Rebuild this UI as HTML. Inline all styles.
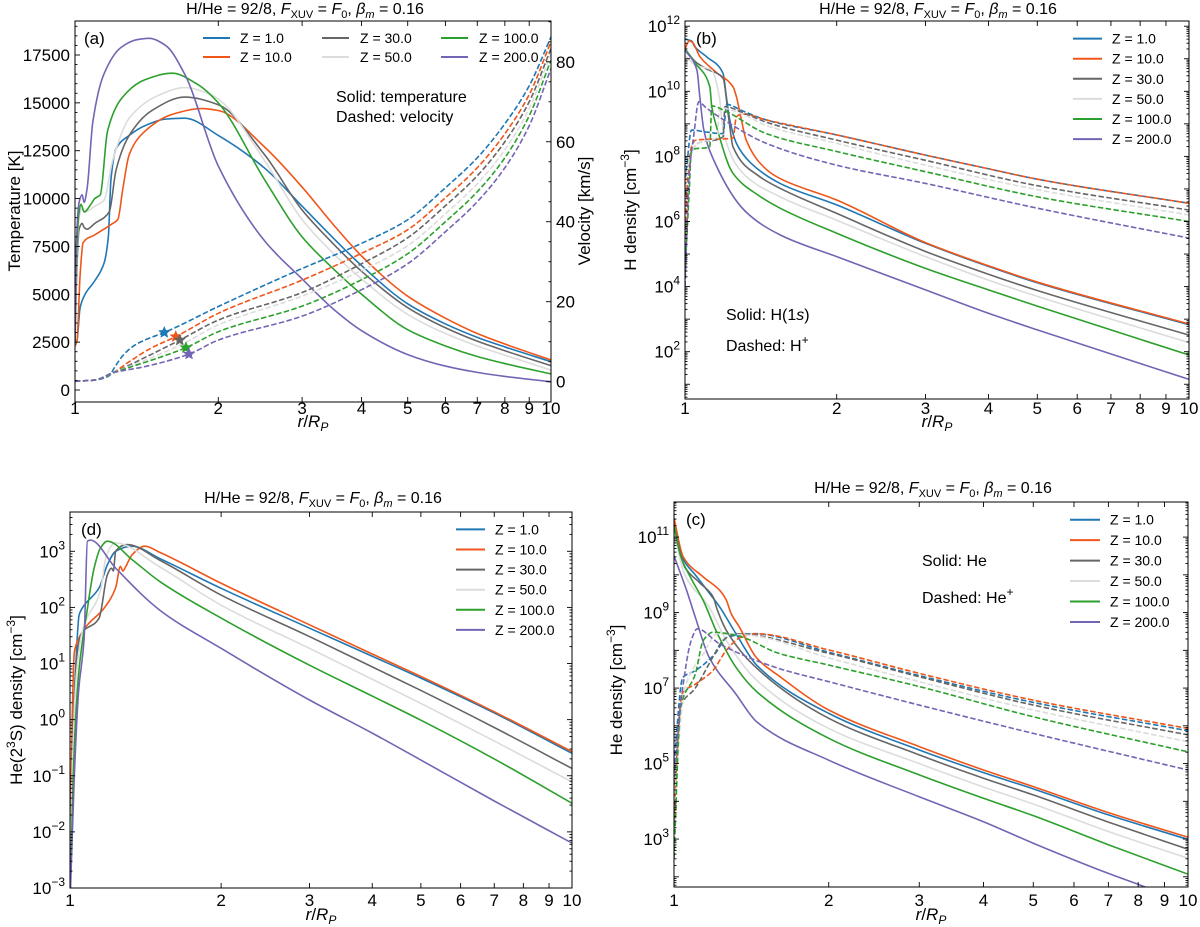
<!DOCTYPE html>
<html><head><meta charset="utf-8"><style>
body{margin:0;background:#fff}
svg{display:block;font-family:"Liberation Sans",sans-serif}
</style></head><body>
<svg id="fig" width="1200" height="927" viewBox="0 0 1200 927" xmlns="http://www.w3.org/2000/svg"></svg>
<script>
// ---------- shared ----------
const zLabels = ["Z = 1.0","Z = 10.0","Z = 30.0","Z = 50.0","Z = 100.0","Z = 200.0"];
const xTicks = [1,2,3,4,5,6,7,8,9,10];
// ---------- panel (a): temperature [K] vs r ----------
const tempZ1 = [[1,2290],[1.01,2600],[1.025,4300],[1.05,5000],[1.1,5700],[1.15,6600],[1.175,8000],[1.19,11000],[1.22,12600],[1.3,13300],[1.4,13800],[1.55,14150],[1.7,14200],[2,13300],[2.5,11600],[3,9600],[3.5,7900],[4,6500],[5,4500],[6,3450],[7,2750],[8,2250],[10,1480]];
const tempZ10 = [[1,2300],[1.01,2600],[1.025,6000],[1.04,7700],[1.1,8100],[1.2,8700],[1.23,8900],[1.26,10500],[1.3,12300],[1.4,13500],[1.6,14400],[1.85,14700],[2,14600],[2.5,12700],[3,10600],[3.5,8600],[4,7000],[5,4900],[6,3750],[7,2950],[8,2400],[10,1570]];
const tempZ30 = [[1,2400],[1.005,5000],[1.02,8400],[1.035,8700],[1.045,8500],[1.06,8400],[1.1,8700],[1.18,9300],[1.22,11500],[1.3,13300],[1.45,14600],[1.7,15300],[2,14900],[2.5,12300],[3,9400],[3.5,7600],[4,6200],[5,4300],[6,3250],[7,2550],[8,2050],[10,1270]];
const tempZ50 = [[1,2400],[1.005,5500],[1.02,9000],[1.035,9500],[1.05,9300],[1.1,9600],[1.15,9900],[1.2,12000],[1.3,14200],[1.5,15400],[1.7,15800],[1.9,15500],[2,15200],[2.5,12000],[3,8900],[3.5,7100],[4,5800],[5,3950],[6,2950],[7,2300],[8,1820],[10,1040]];
const tempZ100 = [[1,2400],[1.005,6000],[1.02,9300],[1.03,9700],[1.045,9300],[1.08,9700],[1.1,10000],[1.13,10200],[1.17,13500],[1.25,15200],[1.4,16200],[1.6,16550],[1.8,16000],[2,15000],[2.5,11000],[3,8000],[3.5,6300],[4,5000],[5,3150],[6,2300],[7,1750],[8,1380],[10,840]];
const tempZ200 = [[1,2500],[1.005,7000],[1.02,9800],[1.035,10200],[1.045,9800],[1.06,10500],[1.09,14000],[1.15,16500],[1.25,17900],[1.35,18300],[1.43,18370],[1.55,18000],[1.7,16500],[2,11700],[2.5,7800],[3,5800],[3.5,4200],[4,3100],[5,1850],[6,1250],[7,920],[8,710],[10,430]];
const velZ1 = [[1,0.1],[1.1,0.4],[1.18,1.5],[1.21,3.5],[1.26,6.5],[1.33,9],[1.42,10.7],[1.54,12.3],[2,18.8],[3,28.3],[4,34.6],[5,40.5],[6,48.5],[7,56],[8,64.5],[9,74],[10,86.2]];
const velZ10 = [[1,0.1],[1.1,0.4],[1.2,2.2],[1.3,5],[1.45,8.5],[1.628,11.25],[2,17.1],[3,25.4],[4,32.1],[5,38],[6,46],[7,53.5],[8,62],[9,71.8],[10,85]];
const velZ30 = [[1,0.1],[1.1,0.4],[1.2,2.2],[1.4,6],[1.66,10.4],[2,15.4],[3,22.3],[4,29.5],[5,36],[6,44],[7,51.5],[8,60],[9,70],[10,83.3]];
const velZ50 = [[1,0.1],[1.1,0.4],[1.2,2.2],[1.4,5.3],[1.68,9.4],[2,14.2],[3,21.4],[4,27.8],[5,34],[6,42],[7,49.5],[8,58],[9,68.3],[10,82.1]];
const velZ100 = [[1,0.1],[1.1,0.4],[1.2,2.2],[1.4,4.8],[1.71,8.5],[2,12.5],[3,18.9],[4,25.5],[5,32],[6,40],[7,47.5],[8,56],[9,66.5],[10,80.4]];
const velZ200 = [[1,0.1],[1.1,0.4],[1.2,2.2],[1.4,3.75],[1.736,6.9],[2,10.4],[3,16.4],[4,23],[5,29.5],[6,37.5],[7,45],[8,53.5],[9,64],[10,78.3]];
const starR = [1.54,1.628,1.66,1.71,1.736];
const starV = [12.3,11.25,10.4,8.5,6.9];
const tempTicks = [0,2500,5000,7500,10000,12500,15000,17500];
const velTicks = [0,20,40,60,80];
// ---------- panel (b): log10 H density ----------
const h1sZ1 = [[1,11.6],[1.03,11.55],[1.046,11.37],[1.104,11.06],[1.19,10.55],[1.208,9.83],[1.227,9.12],[1.265,8.4],[1.35,7.8],[1.544,7.17],[2,6.51],[3,5.33],[4,4.62],[5,4.12],[10,2.83]];
const h1sZ10 = [[1,11.3],[1.02,11.55],[1.035,11.5],[1.071,11.06],[1.15,10.6],[1.245,10.14],[1.265,9.83],[1.294,9.12],[1.323,8.5],[1.45,7.6],[1.544,7.32],[2,6.66],[3,5.35],[4,4.64],[5,4.14],[10,2.85]];
const h1sZ30 = [[1,11.3],[1.05,10.9],[1.1,10.7],[1.19,10.4],[1.22,9.22],[1.245,8.3],[1.4,7.4],[1.544,7.02],[2,6.25],[3,5.08],[4,4.38],[5,3.88],[10,2.51]];
const h1sZ50 = [[1,11.1],[1.05,10.8],[1.13,10.65],[1.17,9.83],[1.19,8.81],[1.3,7.5],[1.544,6.76],[2,6.04],[3,4.92],[4,4.2],[5,3.7],[10,2.28]];
const h1sZ100 = [[1,11.3],[1.05,10.85],[1.12,10.14],[1.13,9.53],[1.16,8.81],[1.245,7.48],[1.4,6.8],[1.544,6.41],[2,5.64],[3,4.56],[4,3.9],[5,3.4],[10,1.9]];
const h1sZ200 = [[1,11.27],[1.056,10.65],[1.07,9.83],[1.09,8.81],[1.14,7.89],[1.32,6.3],[1.544,5.59],[2,4.92],[3,3.9],[4,3.18],[5,2.67],[10,1.15]];
const hpZ1 = [[1,6.8],[1.01,7.8],[1.03,8.81],[1.1,8.75],[1.19,8.7],[1.21,9.6],[1.3,9.4],[1.45,9.12],[2,8.66],[3,8.04],[4,7.62],[5,7.3],[10,6.56]];
const hpZ10 = [[1,5.5],[1.015,7.5],[1.03,8.3],[1.05,8.5],[1.245,8.56],[1.265,9.22],[1.3,9.3],[1.45,9.12],[2,8.66],[3,8.04],[4,7.62],[5,7.3],[10,6.56]];
const hpZ30 = [[1,7.0],[1.02,7.9],[1.06,8.4],[1.19,8.6],[1.2,9.53],[1.3,9.35],[1.45,9.05],[2,8.5],[3,7.88],[5,7.1],[10,6.35]];
const hpZ50 = [[1,7.0],[1.02,7.9],[1.06,8.4],[1.16,8.6],[1.17,9.5],[1.3,9.3],[1.45,8.95],[2,8.4],[3,7.73],[5,6.98],[10,6.2]];
const hpZ100 = [[1,4.4],[1.02,7.0],[1.03,8.2],[1.12,8.3],[1.13,9.55],[1.2,9.4],[1.45,8.7],[2,8.15],[3,7.53],[5,6.76],[10,6.0]];
const hpZ200 = [[1,4.0],[1.02,7.5],[1.04,8.6],[1.065,9.68],[1.1,9.5],[1.2,9.1],[1.45,8.4],[2,7.73],[3,7.17],[5,6.41],[10,5.49]];
const bTickExp = [2,4,6,8,10,12];
// ---------- panel (d): log10 He(2^3S) density ----------
const tripZ1 = [[1,-1.3],[1.01,-1.2],[1.025,0.8],[1.043,1.87],[1.06,2.0],[1.143,2.35],[1.187,2.76],[1.233,3.0],[1.33,3.09],[1.51,2.87],[2,2.34],[3,1.63],[4,1.13],[5,0.74],[7,0.12],[10,-0.6]];
const tripZ10 = [[1,-2.6],[1.01,0.0],[1.02,1.2],[1.028,1.33],[1.07,1.63],[1.17,1.99],[1.233,2.35],[1.26,2.73],[1.275,2.65],[1.29,2.72],[1.33,2.94],[1.41,3.09],[1.51,2.98],[2,2.43],[3,1.69],[4,1.17],[5,0.77],[7,0.14],[10,-0.57]];
const tripZ30 = [[1,-3.2],[1.01,-1],[1.025,0.8],[1.05,1.5],[1.143,1.81],[1.187,2.58],[1.21,2.7],[1.22,2.65],[1.233,3.0],[1.3,3.12],[1.51,2.84],[2,2.22],[3,1.48],[4,0.94],[5,0.52],[7,-0.14],[10,-0.87]];
const tripZ50 = [[1,-3.2],[1.01,-1],[1.03,0.8],[1.06,1.6],[1.15,2.3],[1.18,2.9],[1.23,3.15],[1.51,2.72],[2,2.04],[3,1.27],[4,0.72],[5,0.29],[7,-0.38],[10,-1.11]];
const tripZ100 = [[1,-3.3],[1.015,-1],[1.04,0.8],[1.08,1.9],[1.117,2.7],[1.15,3.06],[1.187,3.18],[1.33,2.85],[1.51,2.46],[2,1.81],[3,0.97],[4,0.42],[5,-0.01],[7,-0.7],[10,-1.49]];
const tripZ200 = [[1,-3.3],[1.02,-1],[1.04,0.5],[1.067,1.45],[1.083,3.18],[1.098,3.2],[1.233,2.7],[1.51,1.95],[2,1.27],[3,0.35],[4,-0.24],[5,-0.72],[7,-1.45],[10,-2.2]];
const dTickExp = [-3,-2,-1,0,1,2,3];
// ---------- panel (c): log10 He density ----------
const heZ1 = [[1,11.4],[1.045,10.39],[1.1,10.0],[1.18,9.46],[1.227,9.15],[1.32,8.44],[1.45,7.6],[2,6.33],[3,5.36],[4,4.76],[5,4.33],[7,3.64],[10,2.99]];
const heZ10 = [[1,11.5],[1.042,10.48],[1.139,9.95],[1.227,9.59],[1.264,9.33],[1.292,8.97],[1.34,8.62],[1.444,7.82],[1.608,7.3],[2,6.42],[3,5.45],[4,4.83],[5,4.39],[7,3.7],[10,3.05]];
const heZ30 = [[1,11.3],[1.05,10.2],[1.12,9.8],[1.191,9.42],[1.215,9.06],[1.264,8.53],[1.43,7.6],[2,6.2],[3,5.23],[4,4.61],[5,4.17],[7,3.45],[10,2.73]];
const heZ50 = [[1,11.1],[1.05,10.0],[1.17,9.15],[1.264,8.26],[1.45,7.2],[2,5.93],[3,5.0],[4,4.38],[5,3.93],[7,3.2],[10,2.49]];
const heZ100 = [[1,11.3],[1.03,10.5],[1.08,9.9],[1.139,9.33],[1.215,8.44],[1.32,7.55],[1.45,6.9],[2,5.67],[3,4.7],[4,4.08],[5,3.62],[7,2.85],[10,2.07]];
const heZ200 = [[1,10.5],[1.058,9.59],[1.1,8.88],[1.17,7.82],[1.32,6.84],[1.45,6.1],[2,5.09],[3,4.12],[4,3.46],[5,2.89],[7,2.09],[8,1.8],[10,1.3]];
const hepZ1 = [[1,5.0],[1.04,7.28],[1.1,7.46],[1.2,7.9],[1.27,8.35],[1.43,8.44],[2,7.95],[3,7.33],[5,6.62],[10,5.87]];
const hepZ10 = [[1,3.5],[1.02,5.8],[1.035,6.84],[1.1,7.1],[1.19,7.46],[1.264,8.0],[1.35,8.35],[1.444,8.44],[2,8.01],[3,7.39],[5,6.68],[10,5.93]];
const hepZ30 = [[1,4.0],[1.03,6.5],[1.1,7.0],[1.19,7.82],[1.245,8.26],[1.32,8.44],[2,7.92],[3,7.3],[5,6.55],[10,5.76]];
const hepZ50 = [[1,4.0],[1.05,7.0],[1.14,7.9],[1.215,8.44],[1.4,8.4],[2,7.8],[3,7.17],[5,6.42],[10,5.58]];
const hepZ100 = [[1,2.5],[1.03,6.48],[1.1,7.37],[1.14,8.26],[1.19,8.48],[1.32,8.4],[1.6,7.92],[2,7.61],[3,7.04],[5,6.24],[10,5.31]];
const hepZ200 = [[1,4.8],[1.04,7.02],[1.08,8.26],[1.11,8.57],[1.227,8.17],[1.6,7.52],[2,7.17],[3,6.55],[5,5.8],[10,4.83]];
const cTickExp = [3,5,7,9,11];

// ---------- drawing ----------
const COLORS = ["#1f77b4","#f0561a","#666666","#dcdcdc","#2ca02c","#7464b4"];
const NS = "http://www.w3.org/2000/svg";
const svg = document.getElementById("fig");
function el(tag, attrs, parent){
  const e = document.createElementNS(NS, tag);
  for (const k in attrs) e.setAttribute(k, attrs[k]);
  (parent||svg).appendChild(e);
  return e;
}
function monoPath(pts){
  const n = pts.length; if (n<2) return "";
  const dx=[],dy=[],s=[];
  for(let i=0;i<n-1;i++){dx[i]=pts[i+1][0]-pts[i][0];dy[i]=pts[i+1][1]-pts[i][1];s[i]=dy[i]/dx[i];}
  const m=[s[0]];
  for(let i=1;i<n-1;i++){
    if(s[i-1]*s[i]<=0) m[i]=0;
    else { const w1=2*dx[i]+dx[i-1], w2=dx[i]+2*dx[i-1]; m[i]=(w1+w2)/(w1/s[i-1]+w2/s[i]); }
  }
  m[n-1]=s[n-2];
  let d="M"+pts[0][0].toFixed(2)+","+pts[0][1].toFixed(2);
  for(let i=0;i<n-1;i++){
    const h=dx[i];
    d+="C"+(pts[i][0]+h/3).toFixed(2)+","+(pts[i][1]+m[i]*h/3).toFixed(2)+" "+(pts[i+1][0]-h/3).toFixed(2)+","+(pts[i+1][1]-m[i+1]*h/3).toFixed(2)+" "+pts[i+1][0].toFixed(2)+","+pts[i+1][1].toFixed(2);
  }
  return d;
}
function makePanel(id, L, R, T, B){
  const P = {L,R,T,B};
  P.x = r => L + (R-L)*Math.log10(r);
  const cp = el("clipPath",{id:"clip"+id});
  el("rect",{x:L,y:T,width:R-L,height:B-T},cp);
  P.g = el("g",{"clip-path":"url(#clip"+id+")"});
  
  
  return P;
}
function drawSeries(P, data, yf, color, dashed, name){
  const pts = data.map(d => [P.x(d[0]), yf(d[1])]);
  const p = el("path",{d:monoPath(pts),fill:"none",stroke:color,"stroke-width":1.6,"stroke-linejoin":"round"},P.g);
  if (dashed) p.setAttribute("stroke-dasharray","5.5 2.4");
  
  
}
function frame(P, name){
  const r = el("rect",{x:P.L,y:P.T,width:P.R-P.L,height:P.B-P.T,fill:"none",stroke:"#000","stroke-width":1});
  
  
}
function tick(x1,y1,x2,y2){ el("line",{x1,y1,x2,y2,stroke:"#000","stroke-width":0.9}); }
function text(x,y,str,opts){
  const t = el("text",Object.assign({x,y,"font-size":16,fill:"#000"},opts||{}));
  t.textContent = str; return t;
}
function xAxis(P, labelY, titleY, pname){
  xTicks.forEach(v=>{
    const x=P.x(v);
    tick(x,P.B,x,P.B-5); tick(x,P.T,x,P.T+5);
    const t=text(x,labelY,String(v),{"text-anchor":"middle","font-size":17});
    
    
  });
  const t = el("text",{x:(P.L+P.R)/2,y:titleY,"font-size":17,"text-anchor":"middle"});
  
  
  t.innerHTML = '<tspan font-style="italic">r</tspan>/<tspan font-style="italic">R</tspan><tspan font-style="italic" font-size="12" dy="4">P</tspan>';
}
function logYAxis(P, lo, hi, labelExps){
  const yf = v => P.B - (v-lo)/(hi-lo)*(P.B-P.T);
  for(let e=Math.floor(lo); e<=Math.ceil(hi); e++){
    for(let k=1;k<10;k++){
      const v=e+Math.log10(k); if(v<lo||v>hi) continue;
      const y=yf(v), len = k===1?5:2.5;
      tick(P.L,y,P.L+len,y); tick(P.R,y,P.R-len,y);
    }
  }
  labelExps.forEach(e=>{
    const y=yf(e);
    const t=el("text",{x:P.L-5,y:y+6,"font-size":17,"text-anchor":"end"});
    t.innerHTML='10<tspan font-size="12" dy="-8">'+(e<0?"\u2212"+(-e):e)+'</tspan>';
    
    
  });
  return yf;
}
function title(cx, y){
  const t = el("text",{x:cx,y:y,"font-size":16,"text-anchor":"middle"});
  t.innerHTML='H/He = 92/8, <tspan font-style="italic">F</tspan><tspan font-size="11" dy="4">XUV</tspan><tspan dy="-4"> = </tspan><tspan font-style="italic">F</tspan><tspan font-size="11" dy="4">0</tspan><tspan dy="-4">, </tspan><tspan font-style="italic">β</tspan><tspan font-style="italic" font-size="11" dy="4">m</tspan><tspan dy="-4"> = 0.16</tspan>';
  
  
}
function yTitle(x, y, html, name){
  const t = el("text",{x:0,y:0,"font-size":17,"text-anchor":"middle",transform:"translate("+x+","+y+") rotate(-90)"});
  t.innerHTML = html;
  
  
}
function legendEntry(x1,x2,tx,y,i){
  const g = el("g",{});
  
  
  el("line",{x1:x1,y1:y,x2:x2,y2:y,stroke:COLORS[i],"stroke-width":2},g);
  const t = el("text",{x:tx,y:y+5,"font-size":14},g);
  t.textContent = zLabels[i];
}
function note(x,y,html,name,fs){
  const t = el("text",{x:x,y:y,"font-size":fs||16});
  t.innerHTML = html;
  
  
}
function star(cx,cy,r,color){
  let d="";
  for(let k=0;k<10;k++){
    const a=-Math.PI/2+k*Math.PI/5, rr = k%2? r*0.45 : r;
    d += (k?"L":"M")+(cx+rr*Math.cos(a)).toFixed(2)+","+(cy+rr*Math.sin(a)).toFixed(2);
  }
  const p = el("path",{d:d+"Z",fill:color,stroke:color,"stroke-width":0.5});
  
  
}

// ===== Panel (a) =====
const A = makePanel("a", 75, 551, 21, 402);
const tLo=-627, tHi=19276, vLo=-5.08, vHi=90.2;
const yT = v => A.B - (v-tLo)/(tHi-tLo)*(A.B-A.T);
const yV = v => A.B - (v-vLo)/(vHi-vLo)*(A.B-A.T);
[tempZ1,tempZ10,tempZ30,tempZ50,tempZ100,tempZ200].forEach((d,i)=>drawSeries(A,d,yT,COLORS[i],false,"temperature-line-z"+zLabels[i].replace(/[^0-9.]/g,'')));
[velZ1,velZ10,velZ30,velZ50,velZ100,velZ200].forEach((d,i)=>drawSeries(A,d,yV,COLORS[i],true,"velocity-line-z"+zLabels[i].replace(/[^0-9.]/g,'')));
const starColors=[COLORS[0],COLORS[1],COLORS[2],COLORS[4],COLORS[5]];
starR.forEach((r,i)=>star(A.x(r),yV(starV[i]),6,starColors[i]));
frame(A,"panel-a-frame");
tempTicks.forEach(v=>{const y=yT(v); tick(A.L,y,A.L+5,y);
  const t=text(A.L-5,y+6,String(v),{"text-anchor":"end","font-size":17});
   });
for(let v=500; v<tHi; v+=500){ if(v%2500) { const y=yT(v); tick(A.L,y,A.L+2.5,y);} }
velTicks.forEach(v=>{const y=yV(v); tick(A.R,y,A.R-5,y);
  const t=text(A.R+5,y+6,String(v),{"font-size":17});
   });
for(let v=0; v<vHi; v+=5){ if(v%20){const y=yV(v); tick(A.R,y,A.R-2.5,y);} }
xAxis(A, 414, 427, "a");
yTitle(20, 211, "Temperature [K]", "temperature-axis-title");
yTitle(590, 211, "Velocity [km/s]", "velocity-axis-title");
title(305, 14);
[[203,230,240,38,0],[203,230,240,57,1],[322,349,360,38,2],[322,349,360,57,3],[441,468,479,38,4],[441,468,479,57,5]].forEach(e=>legendEntry(e[0],e[1],e[2],e[3],e[4]));
note(84,44,"(a)","panel-label-a",17);
note(336,102,"Solid: temperature","solid-note-a");
note(336,122,"Dashed: velocity","dashed-note-a");

// ===== Panel (b) =====
const Bp = makePanel("b", 685, 1189, 21, 399);
const yB = logYAxis(Bp, 0.547, 12.16, bTickExp);
[h1sZ1,h1sZ10,h1sZ30,h1sZ50,h1sZ100,h1sZ200].forEach((d,i)=>drawSeries(Bp,d,yB,COLORS[i],false,"h1s-line-z"+zLabels[i].replace(/[^0-9.]/g,'')));
[hpZ1,hpZ10,hpZ30,hpZ50,hpZ100,hpZ200].forEach((d,i)=>drawSeries(Bp,d,yB,COLORS[i],true,"hplus-line-z"+zLabels[i].replace(/[^0-9.]/g,'')));
frame(Bp,"panel-b-frame");
xAxis(Bp, 414, 427, "b");
yTitle(636, 210, 'H density [cm<tspan font-size="12" dy="-7">\u22123</tspan><tspan dy="7">]</tspan>', "h-density-axis-title");
title(938, 14);
for(let i=0;i<6;i++) legendEntry(1073,1102,1112,38.6+i*20.1,i);
note(696,44,"(b)","panel-label-b",17);
note(726,320,'Solid: H(1<tspan font-style="italic">s</tspan>)',"solid-note-b");
note(726,351,'Dashed: H<tspan font-size="12" dy="-7">+</tspan>',"dashed-note-b");

// ===== Panel (d) =====
const D = makePanel("d", 70, 572, 512, 888);
const yD = logYAxis(D, -3, 3.70, dTickExp);
[tripZ1,tripZ10,tripZ30,tripZ50,tripZ100,tripZ200].forEach((d,i)=>drawSeries(D,d,yD,COLORS[i],false,"he23s-line-z"+zLabels[i].replace(/[^0-9.]/g,'')));
frame(D,"panel-d-frame");
xAxis(D, 906, 920, "d");
yTitle(22, 700, 'He(2<tspan font-size="12" dy="-7">3</tspan><tspan dy="7">S) density [cm</tspan><tspan font-size="12" dy="-7">\u22123</tspan><tspan dy="7">]</tspan>', "he23s-density-axis-title");
title(323, 503);
for(let i=0;i<6;i++) legendEntry(456,485,495,529.4+i*20.1,i);
note(81,535,"(d)","panel-label-d",17);

// ===== Panel (c) =====
const C = makePanel("c", 674, 1188, 502, 887);
const yC = logYAxis(C, 1.73, 11.93, cTickExp);
[heZ1,heZ10,heZ30,heZ50,heZ100,heZ200].forEach((d,i)=>drawSeries(C,d,yC,COLORS[i],false,"he-line-z"+zLabels[i].replace(/[^0-9.]/g,'')));
[hepZ1,hepZ10,hepZ30,hepZ50,hepZ100,hepZ200].forEach((d,i)=>drawSeries(C,d,yC,COLORS[i],true,"heplus-line-z"+zLabels[i].replace(/[^0-9.]/g,'')));
frame(C,"panel-c-frame");
xAxis(C, 906, 920, "c");
yTitle(622, 690, 'He density [cm<tspan font-size="12" dy="-7">\u22123</tspan><tspan dy="7">]</tspan>', "he-density-axis-title");
title(933, 493);
for(let i=0;i<6;i++) legendEntry(1070,1100,1110,519.7+i*20.45,i);
note(686,525,"(c)","panel-label-c",17);
note(922,566,"Solid: He","solid-note-c");
note(922,603,'Dashed: He<tspan font-size="12" dy="-7">+</tspan>',"dashed-note-c");
</script>
</body></html>
